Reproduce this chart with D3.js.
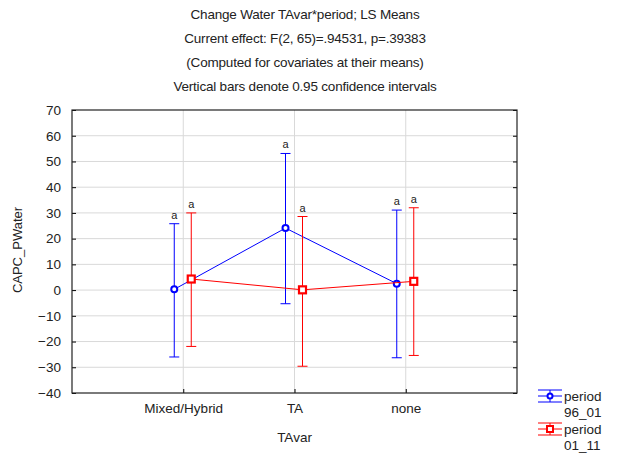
<!DOCTYPE html>
<html>
<head>
<meta charset="utf-8">
<script src="https://cdn.jsdelivr.net/npm/d3@7"></script>
<style>
  body { margin: 0; background: #fff; }
  text { font-family: "Liberation Sans", Arial, sans-serif; fill: #222; }
</style>
</head>
<body>
<div id="chart"></div>
<script>
// data
var categories = ["Mixed/Hybrid", "TA", "none"];
var periods = ["96_01", "01_11"];
var means96 = [0.3, 24.1, 2.5];
var lower96 = [-26.0, -5.3, -26.3];
var upper96 = [25.8, 53.1, 31.1];
var means01 = [4.3, 0.1, 3.4];
var lower01 = [-21.9, -29.6, -25.4];
var upper01 = [30.0, 28.6, 32.0];
var yTicks = [-40, -30, -20, -10, 0, 10, 20, 30, 40, 50, 60, 70];
var titleLines = [
  "Change Water TAvar*period; LS Means",
  "Current effect: F(2, 65)=.94531, p=.39383",
  "(Computed for covariates at their means)",
  "Vertical bars denote 0.95 confidence intervals"
];

var W = 617, H = 455;
var margin = {top: 110, right: 100, bottom: 62, left: 72},
    width = W - margin.left - margin.right,
    height = H - margin.top - margin.bottom;

var svg = d3.select("#chart").append("svg")
  .attr("width", W)
  .attr("height", H);

// titles
svg.selectAll(".title").data(titleLines).enter().append("text")
  .attr("x", 305)
  .attr("y", (d, i) => 19 + i * 24)
  .attr("text-anchor", "middle")
  .style("font-size", "13.5px")
  .style("letter-spacing", "-0.2px")
  .text(d => d);

var g = svg.append("g")
  .attr("transform", `translate(${margin.left}, ${margin.top})`);

var x = d3.scaleLinear().domain([0, 4]).range([0, width]);
var y = d3.scaleLinear().domain([-40, 70]).range([height, 0]);

// gridlines
g.append("g").selectAll("line").data(yTicks.slice(1, -1)).enter().append("line")
  .attr("x1", 0).attr("x2", width)
  .attr("y1", d => y(d)).attr("y2", d => y(d))
  .attr("stroke", "#d9d9d9");
g.append("g").selectAll("line").data(categories).enter().append("line")
  .attr("x1", (d, i) => x(i + 1)).attr("x2", (d, i) => x(i + 1))
  .attr("y1", 0).attr("y2", height)
  .attr("stroke", "#d9d9d9");

// left axis
var leftAxis = d3.axisLeft(y).tickValues(yTicks).tickSize(-4).tickPadding(11);
g.append("g").call(leftAxis)
  .call(a => a.select(".domain").remove())
  .selectAll("text").style("font-size", "13.5px").attr("fill", "#222");

// right ticks
var rightAxis = d3.axisLeft(y).tickValues(yTicks).tickSize(4).tickFormat("");
g.append("g").attr("transform", `translate(${width},0)`).call(rightAxis)
  .call(a => a.select(".domain").remove());

// bottom axis
var bottomAxis = d3.axisBottom(x).tickValues([1, 2, 3])
  .tickFormat(d => categories[d - 1]).tickSize(-4).tickPadding(10);
g.append("g").attr("transform", `translate(0,${height})`).call(bottomAxis)
  .call(a => a.select(".domain").remove())
  .selectAll("text").style("font-size", "13.5px").attr("fill", "#222");

// frame
g.append("rect").attr("width", width).attr("height", height)
  .attr("fill", "none").attr("stroke", "#222").attr("stroke-width", 1.2);

// axis titles
svg.append("text")
  .attr("transform", `translate(${margin.left + x(2)}, 442)`)
  .attr("text-anchor", "middle").style("font-size", "13.5px")
  .text("TAvar");
svg.append("text")
  .attr("transform", `translate(22, 250) rotate(-90)`)
  .attr("text-anchor", "middle").style("font-size", "13px")
  .text("CAPC_PWater");

var series = [
  {name: periods[0], mean: means96, lo: lower96, hi: upper96, color: "#0000ff", dx: -9, shape: "circle"},
  {name: periods[1], mean: means01, lo: lower01, hi: upper01, color: "#ff0000", dx: 8, shape: "square"}
];

series.forEach(function(s) {
  var px = i => x(i + 1) + s.dx;
  var sg = g.append("g");
  // error bars
  categories.forEach(function(c, i) {
    sg.append("line").attr("x1", px(i)).attr("x2", px(i))
      .attr("y1", y(s.lo[i])).attr("y2", y(s.hi[i]))
      .attr("stroke", s.color);
    [s.lo[i], s.hi[i]].forEach(function(v) {
      sg.append("line").attr("x1", px(i) - 5).attr("x2", px(i) + 5)
        .attr("y1", y(v)).attr("y2", y(v)).attr("stroke", s.color);
    });
    sg.append("text").attr("x", px(i)).attr("y", y(s.hi[i]) - 5)
      .attr("text-anchor", "middle").style("font-size", "11px")
      .text("a");
  });
  // line
  var line = d3.line().x((d, i) => px(i)).y(d => y(d));
  sg.append("path").datum(s.mean).attr("d", line)
    .attr("fill", "none").attr("stroke", s.color);
  // markers
  s.mean.forEach(function(v, i) {
    if (s.shape === "circle") {
      sg.append("circle").attr("cx", px(i)).attr("cy", y(v)).attr("r", 3)
        .attr("fill", "#fff").attr("stroke", s.color).attr("stroke-width", 2);
    } else {
      sg.append("rect").attr("x", px(i) - 3.5).attr("y", y(v) - 3.5)
        .attr("width", 7).attr("height", 7)
        .attr("fill", "#fff").attr("stroke", s.color).attr("stroke-width", 2.2);
    }
  });
});

// legend
var legend = svg.append("g").attr("transform", "translate(538, 396)");
series.forEach(function(s, k) {
  var lg = legend.append("g").attr("transform", `translate(0, ${k * 33})`);
  lg.append("line").attr("x1", 0).attr("x2", 24).attr("y1", -6).attr("y2", -6).attr("stroke", s.color);
  lg.append("line").attr("x1", 0).attr("x2", 24).attr("y1", 6).attr("y2", 6).attr("stroke", s.color);
  lg.append("line").attr("x1", 0).attr("x2", 24).attr("y1", 0).attr("y2", 0).attr("stroke", s.color);
  lg.append("line").attr("x1", 12).attr("x2", 12).attr("y1", -6).attr("y2", 6).attr("stroke", s.color);
  if (s.shape === "circle") {
    lg.append("circle").attr("cx", 12).attr("cy", 0).attr("r", 2.5)
      .attr("fill", "#fff").attr("stroke", s.color).attr("stroke-width", 2);
  } else {
    lg.append("rect").attr("x", 9).attr("y", -3).attr("width", 6).attr("height", 6)
      .attr("fill", "#fff").attr("stroke", s.color).attr("stroke-width", 2);
  }
  lg.append("text").attr("x", 26).attr("y", 5).style("font-size", "13.5px").text("period");
  lg.append("text").attr("x", 26).attr("y", 21).style("font-size", "13.5px").text(s.name);
});
</script>
</body>
</html>
